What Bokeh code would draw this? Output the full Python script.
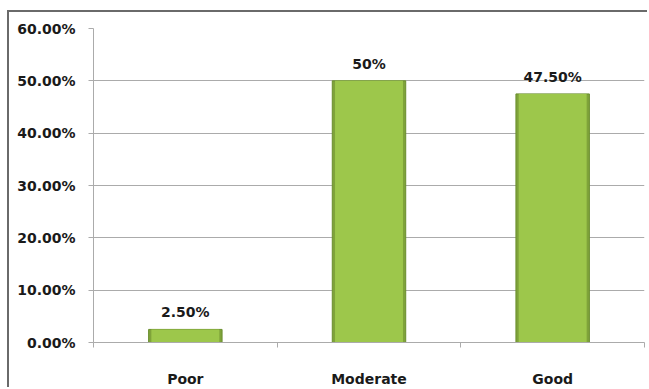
from bokeh.plotting import figure
from bokeh.models import Range1d, FixedTicker, NumeralTickFormatter, ColumnDataSource
from bokeh.core.properties import value
from bokeh.embed import file_html
from bokeh.resources import INLINE
import numpy as np

categories = ["Poor", "Moderate", "Good"]
shares = [0.025, 0.50, 0.475]
share_labels = ["2.50%", "50%", "47.50%"]
y_ticks = [0.0, 0.1, 0.2, 0.3, 0.4, 0.5, 0.6]

FONT = "DejaVu Sans"
GRAY = "#ababab"

n = len(categories)
centers = (np.arange(n) + 0.5).tolist()
bounds = np.arange(n + 1).tolist()

src = ColumnDataSource(dict(x=centers, top=shares, label=share_labels))

p = figure(width=640, height=377,
           x_range=Range1d(0, n), y_range=Range1d(0, y_ticks[-1]),
           output_backend="svg", toolbar_location=None,
           min_border_left=84, min_border_right=5,
           min_border_top=16, min_border_bottom=43)
p.outline_line_color = None
p.background_fill_color = "white"
p.border_fill_color = "white"

# chart border on the top and left edges
p.styles = {"border-top": "2px solid #6a6a6a", "border-left": "2px solid #6a6a6a",
            "margin-left": "7px", "margin-top": "10px"}

# bars: darker rim with a brighter face
p.vbar(x="x", top="top", width=0.4, source=src,
       fill_color="#7fa33a", line_color="#6b8f2e", line_width=1)
p.vbar(x="x", top="top", width=0.37, source=src,
       fill_color="#9dc74b", line_color=None)

# value labels above bars
p.text(x="x", y="top", text="label", source=src,
       text_align="center", text_baseline="bottom", y_offset=-9,
       text_font=value(FONT), text_font_style="bold",
       text_font_size="14px", text_color="#1a1a1a")

# y axis
p.yaxis.ticker = FixedTicker(ticks=y_ticks)
p.yaxis.formatter = NumeralTickFormatter(format="0.00%")
p.yaxis.major_tick_out = 5
p.yaxis.major_tick_in = 0
p.yaxis.minor_tick_line_color = None
p.yaxis.major_tick_line_color = GRAY
p.yaxis.axis_line_color = GRAY
p.yaxis.major_label_standoff = 13
p.yaxis.major_label_text_font = FONT
p.yaxis.major_label_text_font_style = "bold"
p.yaxis.major_label_text_font_size = "14px"
p.yaxis.major_label_text_color = "#1a1a1a"

# x axis: category names at centers, ticks at category boundaries
p.xaxis.ticker = FixedTicker(ticks=centers, minor_ticks=bounds)
p.xaxis.major_label_overrides = {c: name for c, name in zip(centers, categories)}
p.xaxis.major_tick_line_color = None
p.xaxis.major_tick_out = 0
p.xaxis.major_tick_in = 0
p.xaxis.minor_tick_out = 5
p.xaxis.minor_tick_in = 0
p.xaxis.minor_tick_line_color = GRAY
p.xaxis.axis_line_color = GRAY
p.xaxis.major_label_standoff = 23
p.xaxis.major_label_text_font = FONT
p.xaxis.major_label_text_font_style = "bold"
p.xaxis.major_label_text_font_size = "14px"
p.xaxis.major_label_text_color = "#1a1a1a"

p.xgrid.grid_line_color = None
p.ygrid.ticker = FixedTicker(ticks=y_ticks)
p.ygrid.grid_line_color = GRAY
p.ygrid.grid_line_width = 1

open("out.html", "w").write(file_html(p, INLINE))
